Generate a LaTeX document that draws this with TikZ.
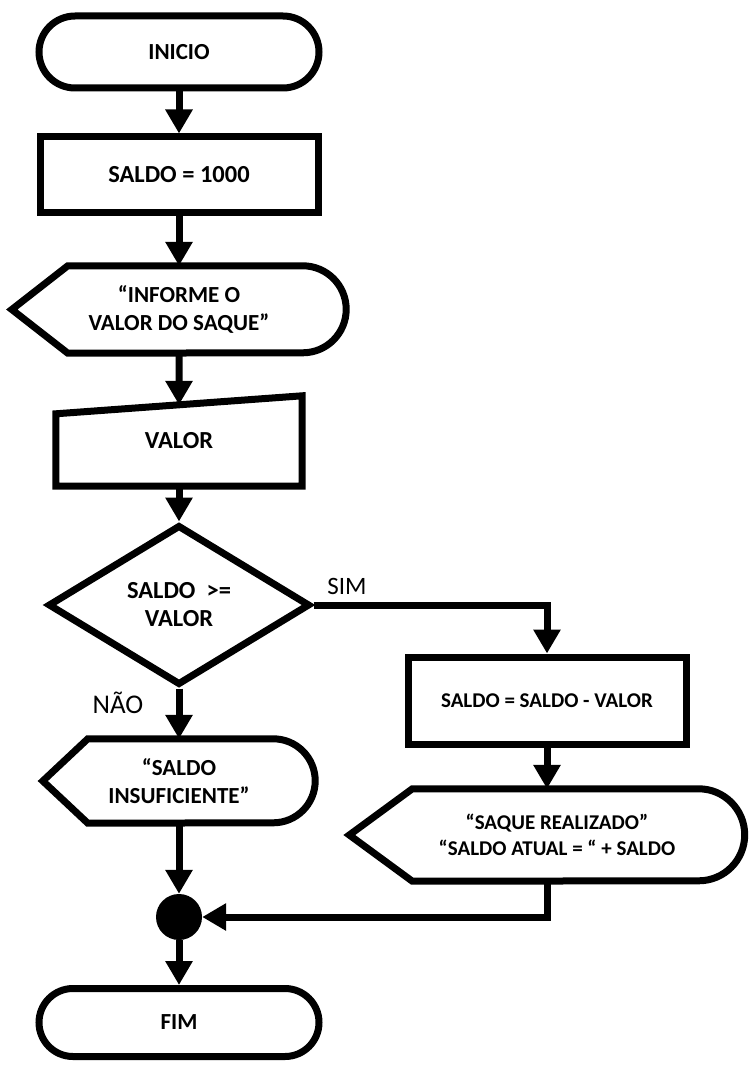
\documentclass[tikz,border=0pt]{standalone}
\usepackage{fontspec}
\setmainfont{Carlito}
\usetikzlibrary{arrows.meta,shapes.geometric,shapes.misc,calc}

\tikzset{
  heavy/.style={line width=7pt},
  flow/.style={heavy, -{Triangle[width=26pt,length=24pt]}},
  txt/.style={font=\fontsize{23}{28}\selectfont\bfseries, align=center, inner sep=0pt},
  big/.style={font=\fontsize{24.5}{28}\selectfont\bfseries},
  small/.style={font=\fontsize{21}{26}\selectfont\bfseries},
  term/.style={txt, draw, heavy, rounded rectangle, minimum width=280pt},
  proc/.style={txt, draw, heavy, rectangle, minimum width=278pt},
  deci/.style={txt, big, draw, heavy, diamond, minimum width=262pt, minimum height=160pt},
  lbl/.style={font=\fontsize{25}{30}\selectfont, inner sep=0pt}
}

\begin{document}
\begin{tikzpicture}[x=1pt,y=-1pt]
\useasboundingbox (0,0) rectangle (752,1067);

\node[term, minimum height=72pt] (inicio) at (179,52) {INICIO};
\node[proc, big, minimum height=76pt] (saldo) at (179,175) {SALDO = 1000};
\node[txt, minimum width=334pt, minimum height=87pt] (informe) at (179,309.5) {“INFORME O\\VALOR DO SAQUE”};
\node[txt, big, minimum width=246pt, minimum height=90pt] (valor) at (179,441) {VALOR};
\node[deci] (teste) at (179,605) {SALDO\ \ >=\\VALOR};
\node[txt, minimum width=272pt, minimum height=84pt] (insuf) at (179,781) {“SALDO\\INSUFICIENTE”};
\node[proc, small, minimum height=87pt] (debito) at (547,700.5) {SALDO = SALDO - VALOR};
\node[txt, small, minimum width=395pt, minimum height=92pt] (realizado) at (547,835) {\hspace*{20pt}“SAQUE REALIZADO”\\\hspace*{20pt}“SALDO ATUAL = “ + SALDO};
\node[circle, fill, inner sep=0pt, minimum size=46pt] (junta) at (179,917) {};
\node[term, minimum height=68pt] (fim) at (179,1022.5) {FIM};

\node[lbl] (sim) at (347,586) {SIM};
\node[lbl, font=\fontsize{27}{30}\selectfont] (nao) at (118,703) {NÃO};

% display shapes: point on the left, round on the right
\foreach \n/\c/\r in {informe/56/43.5, insuf/45/42, realizado/63/46}
  \draw[heavy] (\n.west) -- ($(\n.north west)+(\c,0)$) -- ($(\n.north east)+(-\r,0)$)
    arc[start angle=90, end angle=-90, radius=\r pt] -- ($(\n.south west)+(\c,0)$) -- cycle;
% manual input
\draw[heavy] (valor.south west) -- ($(valor.north west)+(0,18)$) -- (valor.north east)
  -- (valor.south east) -- cycle;
\coordinate (valortop) at ($($(valor.north west)+(0,18)$)!.5!(valor.north east)$);

\draw[flow] (inicio.south) -- (saldo.north);
\draw[flow] (saldo.south) -- (informe.north);
\draw[flow] (informe.south) -- (valortop);
\draw[flow] (valor.south) -- (teste.north);
\draw[flow] (teste.east) -| (debito.north);
\draw[flow] (teste.south) -- (insuf.north);
\draw[flow] (debito.south) -- (realizado.north);
\draw[flow] (insuf.south) -- (junta.north);
\draw[flow] (realizado.south) |- (junta.east);
\draw[flow] (junta.south) -- (fim.north);
\end{tikzpicture}
\end{document}
